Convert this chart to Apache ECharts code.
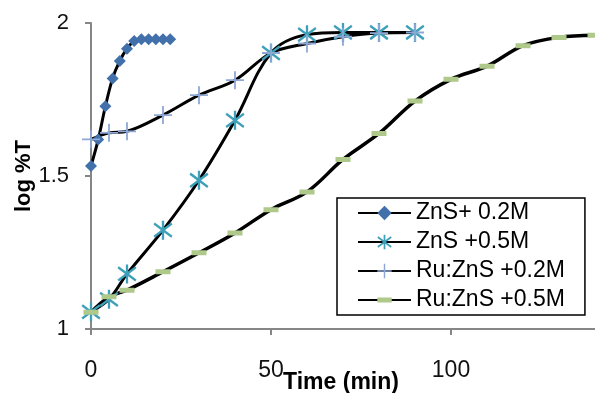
<!DOCTYPE html>
<html>
<head>
<meta charset="utf-8">
<script src="https://cdn.jsdelivr.net/npm/echarts@6/dist/echarts.min.js"></script>
<style>
  html, body { margin: 0; padding: 0; background: #fff; }
  #chart { width: 595px; height: 393px; }
</style>
</head>
<body>
<div id="chart"></div>
<script>
// Transmittance (log %T) versus irradiation time
const seriesNames = ['ZnS+ 0.2M', 'ZnS +0.5M', 'Ru:ZnS +0.2M', 'Ru:ZnS +0.5M'];

const timeZnS02 = [0, 2, 4, 6, 8, 10, 12, 14, 16, 18, 20, 22];
const logTZnS02 = [1.533, 1.619, 1.728, 1.819, 1.876, 1.916, 1.941, 1.947, 1.947, 1.947, 1.947, 1.947];

const timeZnS05 = [0, 5, 10, 20, 30, 40, 50, 60, 70, 80, 90];
const logTZnS05 = [1.056, 1.097, 1.180, 1.323, 1.486, 1.682, 1.902, 1.962, 1.969, 1.969, 1.969];

const timeRuZnS02 = [0, 5, 10, 20, 30, 40, 50, 60, 70, 80, 90];
const logTRuZnS02 = [1.620, 1.641, 1.646, 1.699, 1.764, 1.813, 1.902, 1.933, 1.955, 1.967, 1.969];

const timeRuZnS05 = [0, 5, 10, 20, 30, 40, 50, 60, 70, 80, 90, 100, 110, 120, 130, 140];
const logTRuZnS05 = [1.055, 1.105, 1.127, 1.187, 1.249, 1.314, 1.390, 1.448, 1.554, 1.639, 1.745, 1.816, 1.859, 1.926, 1.953, 1.960];

const xTicks = [0, 50, 100, 150];
const yTicks = [1, 1.5, 2];

const FONT = '"Liberation Sans", Arial, sans-serif';
const AXIS_GREY = '#868686';

// marker shapes: six-spoke asterisk and thin plus, built from filled bars
const ASTERISK = 'path://M8.7 0L11.3 0L11.3 20L8.7 20Z' +
  'M-0.745 4.065L0.745 1.935L20.745 15.935L19.255 18.065Z' +
  'M0.745 18.065L-0.745 15.935L19.255 1.935L20.745 4.065Z';
const PLUS = 'path://M9 0H11V20H9ZM0 9H20V11H0Z';
// flat dash centred in a square box (the empty points keep the box square)
const DASH = 'path://M0 5H15V10H0ZM7.5 0L7.5 0ZM7.5 15L7.5 15Z';

function pairs(xs, ys) {
  return xs.map((x, i) => [x, ys[i]]);
}

function lineSeries(name, xs, ys, symbol, size, color, width) {
  return {
    name: name,
    type: 'line',
    data: pairs(xs, ys),
    smooth: 0.35,
    symbol: symbol,
    symbolSize: size,
    itemStyle: { color: color },
    lineStyle: { color: '#000', width: width },
    emphasis: { disabled: true },
    animation: false
  };
}

const chart = echarts.init(document.getElementById('chart'), null, { renderer: 'canvas' });

chart.setOption({
  backgroundColor: '#fff',
  animation: false,
  grid: { left: 91, top: 23, width: 540, bottom: 64, containLabel: false, outerBoundsMode: 'none' },
  xAxis: {
    type: 'value',
    min: xTicks[0],
    max: xTicks[xTicks.length - 1],
    interval: xTicks[1] - xTicks[0],
    name: 'Time (min)',
    nameLocation: 'middle',
    nameGap: 42,
    nameMoveOverlap: false,
    nameTextStyle: { fontFamily: FONT, fontSize: 23, fontWeight: 'bold', color: '#000', padding: [0, 40, 0, 0] },
    axisLine: { lineStyle: { color: AXIS_GREY, width: 2 } },
    axisTick: { show: true, length: 6, lineStyle: { color: AXIS_GREY, width: 2 } },
    axisLabel: { fontFamily: FONT, fontSize: 23, color: '#111', margin: 30 },
    splitLine: { show: false }
  },
  yAxis: {
    type: 'value',
    min: yTicks[0],
    max: yTicks[yTicks.length - 1],
    interval: yTicks[1] - yTicks[0],
    name: 'log %T',
    nameLocation: 'middle',
    nameGap: 56,
    nameRotate: 90,
    nameMoveOverlap: false,
    nameTextStyle: { fontFamily: FONT, fontSize: 22, fontWeight: 'bold', color: '#000' },
    axisLine: { show: true, lineStyle: { color: AXIS_GREY, width: 2 } },
    axisTick: { show: true, length: 6, lineStyle: { color: AXIS_GREY, width: 2 } },
    axisLabel: { fontFamily: FONT, fontSize: 22, color: '#111', margin: 22 },
    splitLine: { show: false }
  },
  legend: {
    orient: 'vertical',
    left: 337,
    top: 198,
    padding: [2, 20, 2, 20],
    itemGap: 3,
    itemWidth: 53,
    itemHeight: 18,
    borderColor: '#000',
    borderWidth: 1.5,
    textStyle: { fontFamily: FONT, fontSize: 23, color: '#000', lineHeight: 26 },
    data: seriesNames
  },
  series: [
    lineSeries(seriesNames[0], timeZnS02, logTZnS02, 'diamond', 12, '#4270AB', 3),
    lineSeries(seriesNames[1], timeZnS05, logTZnS05, ASTERISK, 19, '#3E9FB8', 3),
    lineSeries(seriesNames[2], timeRuZnS02, logTRuZnS02, PLUS, 18, '#8EA8D6', 3),
    lineSeries(seriesNames[3], timeRuZnS05, logTRuZnS05, DASH, 15, '#AFC98A', 3.5)
  ]
});
</script>
</body>
</html>
